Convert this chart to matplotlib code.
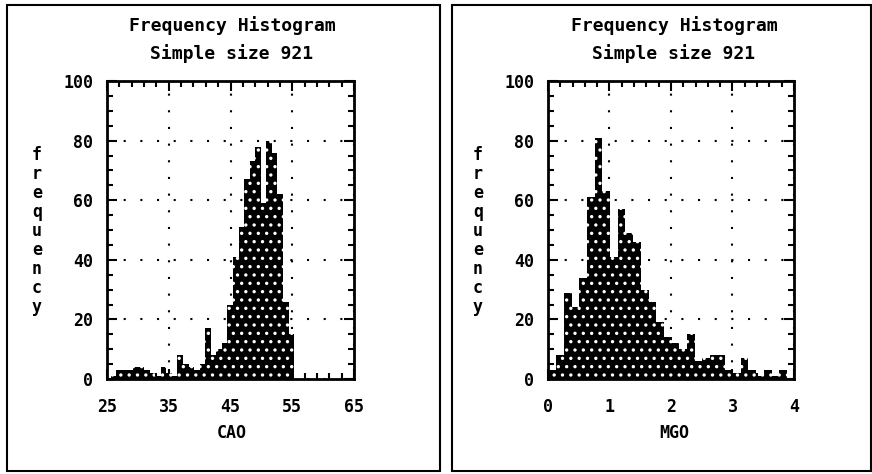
import matplotlib
matplotlib.use('Agg')
import matplotlib.pyplot as plt
import numpy as np
from matplotlib.patches import Rectangle
from matplotlib.ticker import FixedLocator, MultipleLocator

plt.rcParams['font.family'] = 'DejaVu Sans Mono'
plt.rcParams['font.weight'] = 'bold'
plt.rcParams['hatch.linewidth'] = 1.2

# CAO histogram (bins of 0.9 starting at 25.6)
cao_start = 25.6
cao_width = 0.9
cao_freq = [1, 3, 3, 3, 4, 4, 3, 2, 1, 4, 2, 1, 8, 5, 4, 3, 5, 17, 8, 10,
            12, 25, 41, 51, 67, 73, 78, 59, 80, 76, 62, 26, 15]
cao_ticks = [25, 35, 45, 55, 65]

# MGO histogram (bins of 0.125 starting at 0.01)
mgo_start = 0.01
mgo_width = 0.125
mgo_freq = [3, 8, 29, 24, 34, 61, 81, 63, 41, 57, 49, 46, 30, 26, 19, 14,
            12, 10, 15, 6, 7, 8, 8, 3, 2, 7, 3, 1, 3, 1, 3]
mgo_ticks = [0, 1, 2, 3, 4]

title1 = 'Frequency Histogram'
title2 = 'Simple size 921'

fig = plt.figure(figsize=(8.72, 4.74), dpi=100)


def draw_panel(ax, start, width, freq, ticks, xminor, xlabel, cx, ylab_x):
    centers = start + width * (np.arange(len(freq)) + 0.5)
    ax.bar(centers, freq, width=width, color='black', linewidth=0, zorder=2)
    ax.bar(centers, freq, width=width, facecolor='none', edgecolor='white',
           hatch='..', linewidth=0, zorder=3)
    ax.set_xlim(ticks[0], ticks[-1])
    ax.set_ylim(0, 100)
    ax.xaxis.set_major_locator(FixedLocator(ticks))
    ax.xaxis.set_minor_locator(FixedLocator(np.arange(ticks[0], ticks[-1] + 1e-9, xminor)))
    ax.yaxis.set_major_locator(MultipleLocator(20))
    ax.yaxis.set_minor_locator(MultipleLocator(5))
    ax.tick_params(which='both', direction='in', top=True, right=True, width=1.5)
    ax.tick_params(which='major', length=7, labelsize=12)
    ax.tick_params(which='minor', length=4)
    ax.tick_params(axis='x', pad=14)
    ax.tick_params(axis='y', pad=10)
    for s in ax.spines.values():
        s.set_linewidth(2)
    ax.grid(True, which='major', color='black', linestyle=(0, (1, 7)), linewidth=1.5)
    ax.set_axisbelow(True)
    fig.text(cx, 0.947, title1, ha='center', va='center', fontsize=13)
    fig.text(cx, 0.888, title2, ha='center', va='center', fontsize=13)
    fig.text(cx, 0.0865, xlabel, ha='center', va='center', fontsize=12)
    fig.text(ylab_x, 0.512, '\n'.join('frequency'), ha='center', va='center',
             fontsize=12, linespacing=1.07)


ax1 = fig.add_axes([0.1227, 0.2004, 0.2833, 0.6287])
draw_panel(ax1, cao_start, cao_width, cao_freq, cao_ticks, 2, 'CAO', 0.266, 0.0424)

ax2 = fig.add_axes([0.6284, 0.2004, 0.2821, 0.6287])
draw_panel(ax2, mgo_start, mgo_width, mgo_freq, mgo_ticks, 0.2, 'MGO', 0.773, 0.548)

# panel borders
fig.patches.append(Rectangle((0.008, 0.0063), 0.4966, 0.9832, transform=fig.transFigure,
                             fill=False, edgecolor='black', linewidth=1.5))
fig.patches.append(Rectangle((0.518, 0.0063), 0.4809, 0.9832, transform=fig.transFigure,
                             fill=False, edgecolor='black', linewidth=1.5))

fig.savefig('out.png', dpi=100)
